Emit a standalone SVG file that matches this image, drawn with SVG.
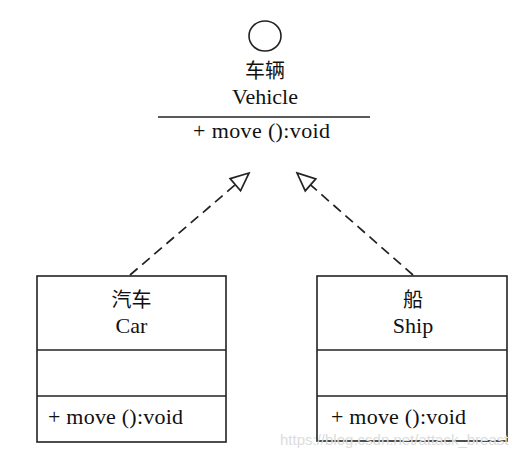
<svg xmlns="http://www.w3.org/2000/svg" width="528" height="454" viewBox="0 0 528 454">
<style>
.t{font-family:"Liberation Serif","Noto Sans CJK SC",serif;font-size:22px;fill:#111;text-anchor:middle}
.c{font-family:"Noto Sans CJK SC",serif;font-size:20px;fill:#111;text-anchor:middle}
.m{font-family:"Liberation Serif","Noto Sans CJK SC",serif;font-size:22px;fill:#111}
.b{fill:#fff;stroke:#222;stroke-width:1.6}
.l{stroke:#222;stroke-width:1.6;fill:none}
.d{stroke:#222;stroke-width:1.7;fill:none;stroke-dasharray:10 6}
.w{font-family:"Liberation Sans",Arial,sans-serif;font-size:15px;fill:#dcdcdc}
</style>
<defs>
<marker id="tri" markerUnits="userSpaceOnUse" viewBox="-2 -10 22 20" markerWidth="22" markerHeight="20" refX="18" refY="0" orient="auto">
<path d="M0,-8 L18,0 L0,8 Z" fill="#fff" stroke="#222" stroke-width="1.7" stroke-dasharray="none"/>
</marker>
</defs>
<g id="vehicle">
<ellipse cx="265" cy="36" rx="16" ry="15" class="l"/>
<text x="265" y="78" class="c">车辆</text>
<text x="265" y="104" class="t">Vehicle</text>
<line x1="158" y1="117" x2="370" y2="117" class="l"/>
<text x="193" y="138" class="m" textLength="137" lengthAdjust="spacing">+ move ():void</text>
</g>
<g id="car">
<rect x="37" y="276" width="189" height="166" class="b"/>
<line x1="37" y1="350" x2="226" y2="350" class="l"/>
<line x1="37" y1="396" x2="226" y2="396" class="l"/>
<text x="131.5" y="307" class="c">汽车</text>
<text x="131.5" y="333" class="t">Car</text>
<text x="48" y="424" class="m" textLength="135" lengthAdjust="spacing">+ move ():void</text>
</g>
<g id="ship">
<rect x="317" y="276" width="190" height="165" class="b"/>
<line x1="317" y1="350" x2="507" y2="350" class="l"/>
<line x1="317" y1="396" x2="507" y2="396" class="l"/>
<text x="413" y="307" class="c">船</text>
<text x="413" y="333" class="t">Ship</text>
<text x="331" y="424" class="m" textLength="135" lengthAdjust="spacing">+ move ():void</text>
</g>
<g id="connectors">
<line x1="130" y1="275" x2="249" y2="173" class="d" marker-end="url(#tri)"/>
<line x1="413" y1="275" x2="297" y2="173" class="d" marker-end="url(#tri)"/>
</g>
<text x="280" y="445" class="w">https://blog.csdn.net/attack_breast</text>
</svg>
